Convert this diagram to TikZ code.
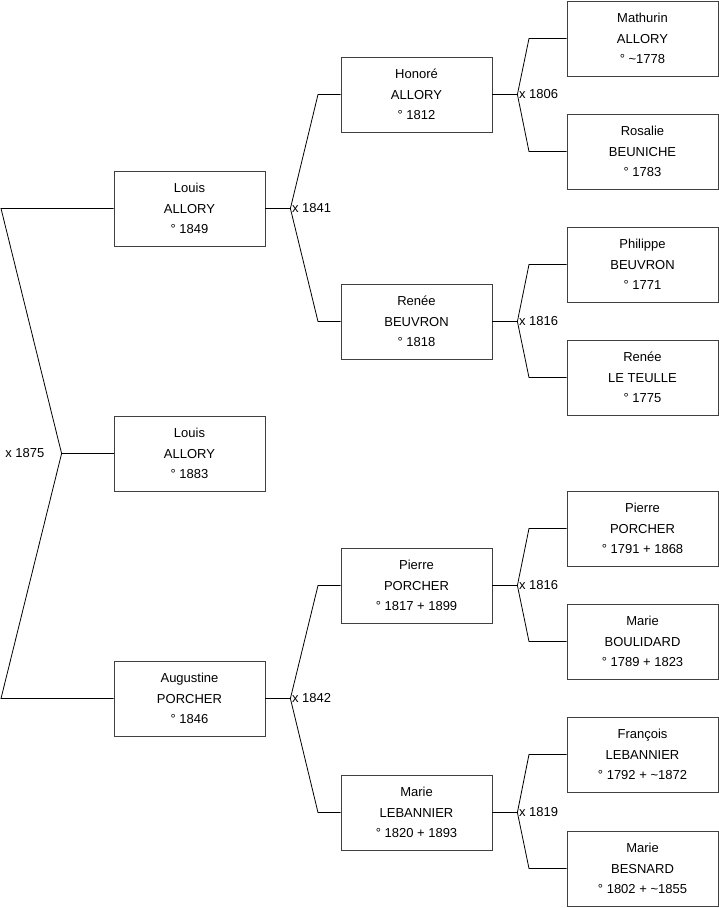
\documentclass[tikz,border=0pt]{standalone}
\usepackage{fontspec}
\setmainfont{Liberation Sans}
\usetikzlibrary{positioning}

\begin{document}
\begin{tikzpicture}[x=1pt,y=-1pt,
  person/.style={draw=black!75,line width=0.8pt,minimum width=151pt,minimum height=75pt,inner sep=0pt,align=center,font=\fontsize{13}{20.5}\selectfont},
  link/.style={line width=0.8pt},
  wed/.style={font=\fontsize{13}{15}\selectfont,inner sep=1.5pt}]
  \useasboundingbox (0,0) rectangle (719,908);
  % child
  \node[person] (louisB) at (189.5,453.5) {Louis\\ALLORY\\° 1883};
  % parents
  \node[person] (louisA) at (189.5,208.5) {Louis\\ALLORY\\° 1849};
  \node[person] (augustine) at (189.5,698.5) {Augustine\\PORCHER\\° 1846};
  % grandparents
  \node[person] (honore) at (416.5,94.5) {Honoré\\ALLORY\\° 1812};
  \node[person] (reneeB) at (416.5,321.5) {Renée\\BEUVRON\\° 1818};
  \node[person] (pierreP) at (416.5,585.5) {Pierre\\PORCHER\\° 1817 + 1899};
  \node[person] (marieL) at (416.5,812.5) {Marie\\LEBANNIER\\° 1820 + 1893};
  % great-grandparents
  \node[person] (mathurin) at (642.5,38.5) {Mathurin\\ALLORY\\° \textasciitilde1778};
  \node[person] (rosalie) at (642.5,151.5) {Rosalie\\BEUNICHE\\° 1783};
  \node[person] (philippe) at (642.5,264.5) {Philippe\\BEUVRON\\° 1771};
  \node[person] (reneeT) at (642.5,377.5) {Renée\\LE TEULLE\\° 1775};
  \node[person] (pierreO) at (642.5,528.5) {Pierre\\PORCHER\\° 1791 + 1868};
  \node[person] (marieBo) at (642.5,641.5) {Marie\\BOULIDARD\\° 1789 + 1823};
  \node[person] (francois) at (642.5,754.5) {François\\LEBANNIER\\° 1792 + \textasciitilde1872};
  \node[person] (marieBe) at (642.5,868.5) {Marie\\BESNARD\\° 1802 + \textasciitilde1855};

  % fork points and bends
  \coordinate (m0) at ([xshift=-52]louisB.west);
  \coordinate (e0) at (1,0);
  \coordinate (m1a) at ([xshift=25]louisA.east);
  \coordinate (m1b) at ([xshift=25]augustine.east);
  \coordinate (e1) at (318,0);
  \coordinate (m2a) at ([xshift=25]honore.east);
  \coordinate (m2b) at ([xshift=25]reneeB.east);
  \coordinate (m2c) at ([xshift=25]pierreP.east);
  \coordinate (m2d) at ([xshift=25]marieL.east);
  \coordinate (e2) at (529,0);

  % links
  \draw[link] (louisA.west) -- (louisA.west -| e0) -- (m0) -- (augustine.west -| e0) -- (augustine.west);
  \draw[link] (m0) -- (louisB.west);
  \draw[link] (louisA.east) -- (m1a);
  \draw[link] (honore.west) -- (honore.west -| e1) -- (m1a) -- (reneeB.west -| e1) -- (reneeB.west);
  \draw[link] (augustine.east) -- (m1b);
  \draw[link] (pierreP.west) -- (pierreP.west -| e1) -- (m1b) -- (marieL.west -| e1) -- (marieL.west);
  \draw[link] (honore.east) -- (m2a);
  \draw[link] (mathurin.west) -- (mathurin.west -| e2) -- (m2a) -- (rosalie.west -| e2) -- (rosalie.west);
  \draw[link] (reneeB.east) -- (m2b);
  \draw[link] (philippe.west) -- (philippe.west -| e2) -- (m2b) -- (reneeT.west -| e2) -- (reneeT.west);
  \draw[link] (pierreP.east) -- (m2c);
  \draw[link] (pierreO.west) -- (pierreO.west -| e2) -- (m2c) -- (marieBo.west -| e2) -- (marieBo.west);
  \draw[link] (marieL.east) -- (m2d);
  \draw[link] (francois.west) -- (francois.west -| e2) -- (m2d) -- (marieBe.west -| e2) -- (marieBe.west);

  % marriages
  \node[wed,anchor=east] (w1875) at ([xshift=-15.5]m0) {x 1875};
  \node[wed,anchor=west] (w1841) at (m1a) {x 1841};
  \node[wed,anchor=west] (w1842) at (m1b) {x 1842};
  \node[wed,anchor=west] (w1806) at (m2a) {x 1806};
  \node[wed,anchor=west] (w1816a) at (m2b) {x 1816};
  \node[wed,anchor=west] (w1816b) at (m2c) {x 1816};
  \node[wed,anchor=west] (w1819) at (m2d) {x 1819};
\end{tikzpicture}
\end{document}
